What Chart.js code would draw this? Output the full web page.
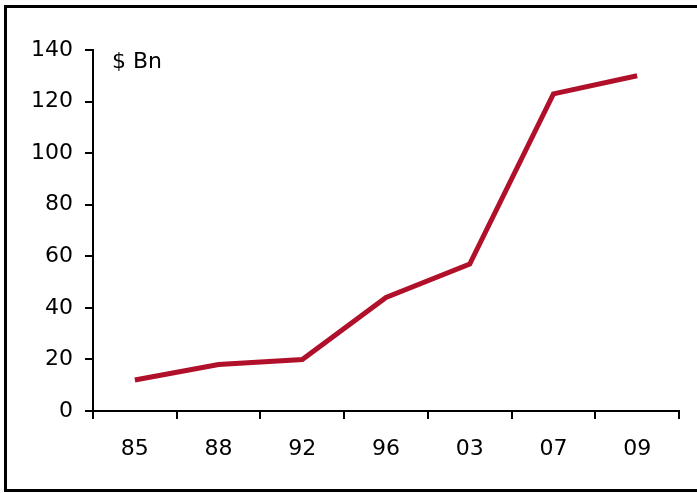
<!DOCTYPE html>
<html>
<head>
<meta charset="utf-8">
<script src="https://cdn.jsdelivr.net/npm/chart.js@4"></script>
<style>
  html, body { margin: 0; padding: 0; background: #fff; overflow: hidden; }
  #wrap { position: relative; width: 697px; height: 493px; overflow: hidden; }
  .edge { position: absolute; background: #000; }
  #top { left: 4px; top: 5px; width: 693px; height: 3px; }
  #left { left: 4px; top: 5px; width: 3px; height: 487px; }
  #bottom { left: 4px; top: 489px; width: 693px; height: 3px; }
  canvas { position: absolute; left: 0; top: 0; }
</style>
</head>
<body>
<div id="wrap">
  <div class="edge" id="top"></div>
  <div class="edge" id="left"></div>
  <div class="edge" id="bottom"></div>
  <canvas id="chart" width="697" height="493"></canvas>
</div>
<script>
const years = ["85", "88", "92", "96", "03", "07", "09"];
const values = [12, 18, 20, 44, 57, 123, 130];
const unitLabel = "$ Bn";

const unitPlugin = {
  id: "unitLabel",
  afterDraw(chart) {
    const ctx = chart.ctx;
    ctx.save();
    ctx.font = "22px 'DejaVu Sans'";
    ctx.fillStyle = "#000";
    ctx.textBaseline = "middle";
    ctx.fillText(unitLabel, 112, 62);
    ctx.restore();
  }
};

new Chart(document.getElementById("chart").getContext("2d"), {
  type: "line",
  data: {
    labels: years,
    datasets: [{
      data: values,
      borderColor: "#b0102a",
      borderWidth: 5,
      pointRadius: 0,
      tension: 0,
      fill: false
    }]
  },
  options: {
    responsive: false,
    animation: false,
    devicePixelRatio: 1,
    layout: { padding: { top: 50, right: 18, left: 0, bottom: 0 } },
    plugins: { legend: { display: false }, tooltip: { enabled: false } },
    scales: {
      x: {
        offset: true,
        grid: { offset: true, drawOnChartArea: false, tickLength: 8, color: "#000", lineWidth: 2 },
        border: { color: "#000", width: 2 },
        ticks: { color: "#000", font: { family: "DejaVu Sans", size: 22 }, padding: 17, maxRotation: 0 },
        afterFit(scale) { scale.height = 82; }
      },
      y: {
        min: 0,
        max: 140,
        grid: { drawOnChartArea: false, tickLength: 8, color: "#000", lineWidth: 2 },
        border: { color: "#000", width: 2 },
        ticks: { stepSize: 20, color: "#000", font: { family: "DejaVu Sans", size: 22 }, padding: 12 },
        afterFit(scale) { scale.width = 93; }
      }
    }
  },
  plugins: [unitPlugin]
});
</script>
</body>
</html>
